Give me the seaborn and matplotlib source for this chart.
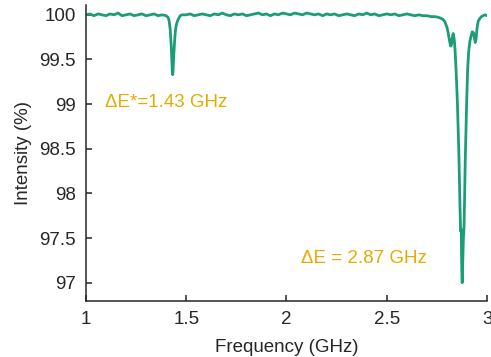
import matplotlib
matplotlib.use('Agg')
import matplotlib.pyplot as plt
import seaborn as sns
import pandas as pd

# spectrum (GHz, %)
freq_left = [1.00, 1.02, 1.04, 1.06, 1.08, 1.10, 1.12, 1.14, 1.16, 1.18, 1.20,
             1.22, 1.24, 1.26, 1.28, 1.30, 1.32, 1.34, 1.36, 1.38, 1.40]
int_left = [100.00, 100.01, 99.99, 100.01, 100.00, 99.99, 100.01, 100.00, 100.02, 99.99, 100.00,
            100.01, 99.99, 100.00, 100.01, 99.99, 100.00, 100.01, 99.99, 100.00, 99.99]

freq_dip1 = [1.410, 1.415, 1.420, 1.425, 1.428, 1.431, 1.433, 1.435, 1.438, 1.442,
             1.446, 1.450, 1.455, 1.460, 1.470, 1.480]
int_dip1 = [99.97, 99.93, 99.84, 99.66, 99.50, 99.36, 99.33, 99.40, 99.55, 99.70,
            99.82, 99.88, 99.92, 99.95, 99.99, 100.00]

freq_mid = [1.50, 1.52, 1.54, 1.56, 1.58, 1.60, 1.62, 1.64, 1.66, 1.68, 1.70,
            1.72, 1.74, 1.76, 1.78, 1.80, 1.82, 1.84, 1.86, 1.88, 1.90,
            1.92, 1.94, 1.96, 1.98, 2.00, 2.02, 2.04, 2.06, 2.08, 2.10,
            2.12, 2.14, 2.16, 2.18, 2.20, 2.22, 2.24, 2.26, 2.28, 2.30,
            2.32, 2.34, 2.36, 2.38, 2.40, 2.42, 2.44, 2.46, 2.48, 2.50,
            2.52, 2.54, 2.56, 2.58, 2.60, 2.62, 2.64, 2.66, 2.68, 2.70,
            2.72, 2.74, 2.76, 2.78]
int_mid = [100.00, 100.01, 99.99, 100.00, 100.01, 100.00, 99.99, 100.01, 100.00, 100.02, 100.00,
           99.99, 100.01, 100.00, 100.01, 99.99, 100.00, 100.01, 100.02, 100.00, 100.01,
           99.99, 100.01, 100.00, 100.02, 100.01, 100.00, 100.02, 100.01, 100.00, 100.02,
           100.01, 100.00, 100.01, 99.99, 100.01, 100.00, 100.01, 99.99, 100.00, 100.01,
           100.00, 99.99, 100.01, 100.00, 100.02, 100.00, 100.01, 99.99, 100.00, 100.01,
           100.00, 100.01, 99.99, 100.00, 100.01, 100.00, 99.99, 100.00, 99.99, 99.99,
           99.98, 99.98, 99.97, 99.95]

freq_dip2 = [2.790, 2.800, 2.806, 2.812, 2.818, 2.822, 2.826, 2.831, 2.836, 2.840,
             2.844, 2.848, 2.852, 2.856, 2.859, 2.862, 2.865, 2.868, 2.871, 2.874,
             2.876, 2.879, 2.882, 2.885, 2.888, 2.891, 2.894, 2.898, 2.903, 2.908,
             2.914, 2.920, 2.926, 2.932, 2.937, 2.941, 2.945, 2.950, 2.956, 2.964,
             2.972, 2.980, 2.990, 3.000]
int_dip2 = [99.92, 99.86, 99.80, 99.72, 99.65, 99.66, 99.74, 99.79, 99.73, 99.62,
            99.45, 99.25, 99.02, 98.72, 98.48, 98.15, 97.85, 97.58, 97.60, 97.12,
            97.00, 97.25, 97.50, 97.62, 97.95, 98.35, 98.65, 99.00, 99.38, 99.58,
            99.70, 99.76, 99.81, 99.80, 99.74, 99.69, 99.73, 99.85, 99.93, 99.96,
            99.98, 99.99, 100.00, 99.99]

y_ticks = [97, 97.5, 98, 98.5, 99, 99.5, 100]
y_tick_labels = ['97', '97.5', '98', '98.5', '99', '99.5', '100']
x_ticks = [1, 1.5, 2, 2.5, 3]
x_tick_labels = ['1', '1.5', '2', '2.5', '3']

spectrum = pd.DataFrame({
    'freq': freq_left + freq_dip1 + freq_mid + freq_dip2,
    'intensity': int_left + int_dip1 + int_mid + int_dip2,
})

sns.set_style('ticks')
plt.rcParams['font.family'] = ['Liberation Sans', 'DejaVu Sans']
plt.rcParams['xtick.direction'] = 'in'
plt.rcParams['ytick.direction'] = 'in'

text_col = '#262626'
fs = 13.5
fig = plt.figure(figsize=(4.91, 3.57), dpi=100)
ax = fig.add_axes([0.175, 0.158, 0.817, 0.828])

sns.lineplot(data=spectrum, x='freq', y='intensity', estimator=None,
             color='#1b9e77', linewidth=2.0, ax=ax)

ax.set_xlim(1, 3)
ax.set_ylim(96.8, 100.11)
ax.set_xticks(x_ticks)
ax.set_xticklabels(x_tick_labels)
ax.set_yticks(y_ticks)
ax.set_yticklabels(y_tick_labels)
ax.tick_params(labelsize=fs, colors=text_col, length=4, width=1.1, pad=7.5)
ax.set_xlabel('Frequency (GHz)', fontsize=fs, color=text_col, labelpad=8)
ax.set_ylabel('Intensity (%)', fontsize=fs, color=text_col, labelpad=5)
sns.despine(ax=ax)
for side in ['left', 'bottom']:
    ax.spines[side].set_color(text_col)
    ax.spines[side].set_linewidth(1.1)

ax.text(1.095, 99.02, 'ΔE*=1.43 GHz', fontsize=fs, color='#e6ab02', ha='left', va='center')
ax.text(2.07, 97.27, 'ΔE = 2.87 GHz', fontsize=fs, color='#e6ab02', ha='left', va='center')

fig.savefig('out.png', dpi=100)
